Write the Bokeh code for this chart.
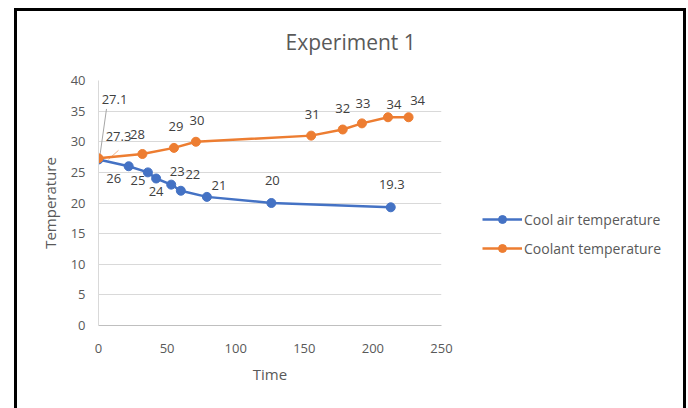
from bokeh.plotting import figure
from bokeh.layouts import row
from bokeh.models import Legend, LegendItem, Title, FixedTicker, ColumnDataSource, InlineStyleSheet
from bokeh.core.properties import value
from bokeh.embed import file_html
from bokeh.resources import INLINE

# ---- data ----
cool_time = [0, 22, 36, 42, 53, 60, 79, 126, 213]
cool_temp = [27.1, 26, 25, 24, 23, 22, 21, 20, 19.3]
coolant_time = [0, 32, 55, 71, 155, 178, 192, 211, 226]
coolant_temp = [27.3, 28, 29, 30, 31, 32, 33, 34, 34]
cool_labels = ["27.1", "26", "25", "24", "23", "22", "21", "20", "19.3"]
coolant_labels = ["27.3", "28", "29", "30", "31", "32", "33", "34", "34"]
series_names = ["Cool air temperature", "Coolant temperature"]
x_ticks = [0, 50, 100, 150, 200, 250]
y_ticks = [0, 5, 10, 15, 20, 25, 30, 35, 40]

# ---- label placement (pixels) ----
cool_dx = [16, -15, -10, 0, 6, 12, 12, 1, 1]
cool_dy = [-60, 12, 8, 13, -13, -16, -11, -23, -23]
coolant_dx = [20, -5, 2, 1, 1, 0, 1, 6, 9]
coolant_dy = [-22, -20, -21, -21, -21, -21, -20, -13, -17]

BLUE = "#4472C4"
ORANGE = "#ED7D31"
FONT = "Open Sans"
GRAY = "#595959"

p = figure(width=470, height=408, x_range=(0, 250), y_range=(0, 40),
           output_backend="svg", toolbar_location=None,
           min_border_left=98, min_border_right=29,
           min_border_top=78, min_border_bottom=83)
p.outline_line_color = None
p.background_fill_color = "white"
p.border_fill_color = "white"

p.title = Title(text="Experiment 1", align="left", offset=187, standoff=50,
                text_font=FONT, text_font_size="21px", text_font_style="normal",
                text_color=GRAY)

p.xgrid.grid_line_color = None
p.ygrid.grid_line_color = "#d9d9d9"
p.ygrid.grid_line_width = 1

p.xaxis.ticker = FixedTicker(ticks=x_ticks)
p.yaxis.ticker = FixedTicker(ticks=y_ticks)
for ax in (p.xaxis[0], p.yaxis[0]):
    ax.major_tick_line_color = None
    ax.minor_tick_line_color = None
    ax.major_label_text_font = FONT
    ax.major_label_text_font_size = "13px"
    ax.major_label_text_color = GRAY
    ax.axis_label_text_font = FONT
    ax.axis_label_text_font_size = "15px"
    ax.axis_label_text_font_style = "normal"
    ax.axis_label_text_color = GRAY
p.xaxis.axis_line_color = "#bfbfbf"
p.yaxis.axis_line_color = "#d9d9d9"
p.xaxis.axis_label = "Time"
p.yaxis.axis_label = "Temperature"
p.xaxis.major_label_standoff = 12
p.yaxis.major_label_standoff = 7
p.xaxis.axis_label_standoff = 8
p.yaxis.axis_label_standoff = 8

# leader lines (pixel offsets converted with the frame scale)
sx = 343 / 250.0
sy = 247 / 40.0
p.segment(x0=[cool_time[0] + 1 / sx], y0=[cool_temp[0] + 1 / sy],
          x1=[cool_time[0] + 8 / sx], y1=[cool_temp[0] + 51 / sy],
          line_color="#a6a6a6", line_width=1)
p.segment(x0=[coolant_time[0] + 10 / sx], y0=[coolant_temp[0] - 1 / sy],
          x1=[coolant_time[0] + 20 / sx], y1=[coolant_temp[0] + 8 / sy],
          line_color="#f4b183", line_width=1)

p.line(cool_time, cool_temp, line_color=BLUE, line_width=2.5)
p.scatter(cool_time, cool_temp, size=9, fill_color=BLUE, line_color=BLUE)
p.line(coolant_time, coolant_temp, line_color=ORANGE, line_width=2.5)
p.scatter(coolant_time, coolant_temp, size=9, fill_color=ORANGE, line_color=ORANGE)

src_c = ColumnDataSource(dict(x=cool_time, y=cool_temp, t=cool_labels, dx=cool_dx, dy=cool_dy))
src_o = ColumnDataSource(dict(x=coolant_time, y=coolant_temp, t=coolant_labels, dx=coolant_dx, dy=coolant_dy))
for src in (src_c, src_o):
    p.text(x="x", y="y", text="t", x_offset="dx", y_offset="dy", source=src,
           text_font=value(FONT), text_font_size="13px", text_color="#404040",
           text_align="center", text_baseline="middle")

# legend panel to the right of the chart (its frame is aligned with the chart's frame)
q = figure(width=218, height=408, x_range=(0, 1), y_range=(0, 1),
           x_axis_type=None, y_axis_type=None,
           output_backend="svg", toolbar_location=None, min_border=0)
q.outline_line_color = None
q.xgrid.grid_line_color = None
q.ygrid.grid_line_color = None
q.background_fill_color = "white"
q.border_fill_color = "white"
# legend-only renderers: a single point placed outside the visible range
off = [5]
lg_cool_line = q.line(x=off, y=off, line_color=BLUE, line_width=2.5)
lg_cool_pts = q.scatter(x=off, y=off, size=9, fill_color=BLUE, line_color=BLUE)
lg_cl_line = q.line(x=off, y=off, line_color=ORANGE, line_width=2.5)
lg_cl_pts = q.scatter(x=off, y=off, size=9, fill_color=ORANGE, line_color=ORANGE)

legend = Legend(items=[LegendItem(label=series_names[0], renderers=[lg_cool_line, lg_cool_pts]),
                       LegendItem(label=series_names[1], renderers=[lg_cl_line, lg_cl_pts])],
                location=(12, 67))
legend.padding = 0
legend.margin = 0
legend.spacing = 9
legend.glyph_width = 40
legend.label_standoff = 2
legend.border_line_alpha = 0
legend.background_fill_alpha = 0
legend.label_text_font = FONT
legend.label_text_font_size = "14px"
legend.label_text_color = GRAY
q.add_layout(legend)

layout = row(p, q, spacing=0)
layout.stylesheets = [InlineStyleSheet(css="""
:host { position: relative; }
:host::after {
  content: "";
  position: absolute;
  left: 14px; top: 8px; width: 672px; height: 400px;
  box-sizing: border-box;
  border: 3px solid black; border-bottom: none;
  pointer-events: none; z-index: 10;
}
""")]

open("out.html", "w").write(file_html(layout, INLINE))
